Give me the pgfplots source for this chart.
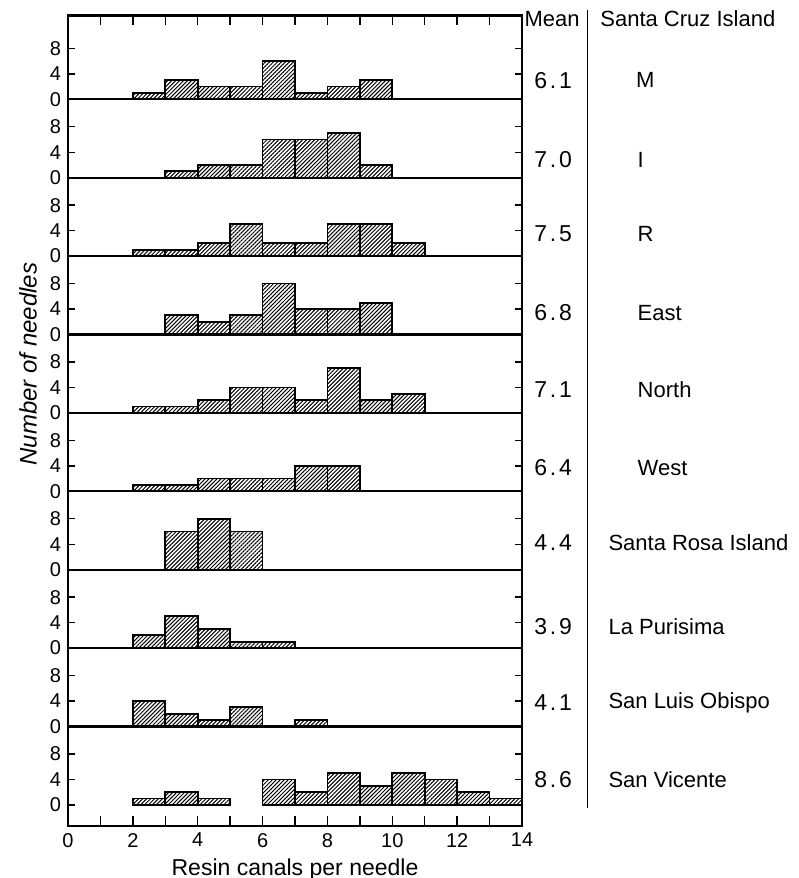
\documentclass[border=0pt]{standalone}
\usepackage{fontspec}
\setmainfont{Liberation Sans}
\newfontfamily\meanfont[LetterSpace=12]{Liberation Sans}
\usepackage{pgfplots}
\pgfplotsset{compat=1.18}
\usetikzlibrary{patterns.meta}
\tikzset{
  meanlab/.style={font=\meanfont\fontsize{11.5}{13}\selectfont, anchor=center},
  namelab/.style={font=\fontsize{11}{13}\selectfont, anchor=west},
}
\pgfplotsset{
  panel/.style={
    x=16.2143pt, y=3.185pt,
    xmin=0, xmax=14, ymin=0, ymax=12.31,
    anchor=south west,
    clip=false,
    axis line style={line width=1.1pt},
    ytick={0,4,8},
    ytick pos=both, yticklabel pos=left,
    xtick=\empty,
    tick align=inside,
    major tick length=3.5pt,
    xtick style={/pgfplots/major tick length=5pt},
    every tick/.append style={black, line width=0.7pt},
    tick label style={font=\fontsize{10}{12}\selectfont},
    /pgf/number format/assume math mode=true,
  },
  hist/.style={ybar interval, draw=black, line width=0.9pt,
    pattern={Lines[angle=45,distance=1.4pt,line width=0.5pt]}},
}
\begin{document}
\begin{tikzpicture}
\path[use as bounding box] (-34pt,-26pt) rectangle (365pt,413pt);
% 0: M
\begin{axis}[panel, at={(0pt,363.35pt)}, ymax=13.16,
  xtick={0,...,14}, xticklabels={}, xtick pos=top]
\addplot[hist] coordinates {(2,1)(3,3)(4,2)(5,2)(6,6)(7,1)(8,2)(9,3)(10,0)};
\node[meanlab] at (axis cs:14.96,3.0) {6.1};
\node[namelab] at (axis cs:17.3,3.0) {M};
\node[namelab, anchor=center] at (axis cs:14.93,12.6) {Mean};
\node[namelab] at (axis cs:16.2,12.6) {Santa Cruz Island};
\coordinate (sepT) at (axis cs:16.03,14.0);
\end{axis}
% 1: I
\begin{axis}[panel, at={(0pt,324.15pt)}]
\addplot[hist] coordinates {(3,1)(4,2)(5,2)(6,6)(7,6)(8,7)(9,2)(10,0)};
\node[meanlab] at (axis cs:14.96,2.8) {7.0};
\node[namelab] at (axis cs:17.35,2.8) {I};
\end{axis}
% 2: R
\begin{axis}[panel, at={(0pt,284.95pt)}]
\addplot[hist] coordinates {(2,1)(3,1)(4,2)(5,5)(6,2)(7,2)(8,5)(9,5)(10,2)(11,0)};
\node[meanlab] at (axis cs:14.96,3.5) {7.5};
\node[namelab] at (axis cs:17.35,3.5) {R};
\end{axis}
% 3: East
\begin{axis}[panel, at={(0pt,245.75pt)}]
\addplot[hist] coordinates {(3,3)(4,2)(5,3)(6,8)(7,4)(8,4)(9,5)(10,0)};
\node[meanlab] at (axis cs:14.96,3.4) {6.8};
\node[namelab] at (axis cs:17.35,3.4) {East};
\end{axis}
% 4: North
\begin{axis}[panel, at={(0pt,206.55pt)}]
\addplot[hist] coordinates {(2,1)(3,1)(4,2)(5,4)(6,4)(7,2)(8,7)(9,2)(10,3)(11,0)};
\node[meanlab] at (axis cs:14.96,3.6) {7.1};
\node[namelab] at (axis cs:17.35,3.6) {North};
\end{axis}
% 5: West
\begin{axis}[panel, at={(0pt,167.35pt)}]
\addplot[hist] coordinates {(2,1)(3,1)(4,2)(5,2)(6,2)(7,4)(8,4)(9,0)};
\node[meanlab] at (axis cs:14.96,3.7) {6.4};
\node[namelab] at (axis cs:17.35,3.7) {West};
\end{axis}
% 6: Santa Rosa Island
\begin{axis}[panel, at={(0pt,128.15pt)}]
\addplot[hist] coordinates {(3,6)(4,8)(5,6)(6,0)};
\node[meanlab] at (axis cs:14.96,4.2) {4.4};
\node[namelab] at (axis cs:16.45,4.2) {Santa Rosa Island};
\end{axis}
% 7: La Purisima
\begin{axis}[panel, at={(0pt,88.95pt)}]
\addplot[hist] coordinates {(2,2)(3,5)(4,3)(5,1)(6,1)(7,0)};
\node[meanlab] at (axis cs:14.96,3.3) {3.9};
\node[namelab] at (axis cs:16.45,3.3) {La Purisima};
\end{axis}
% 8: San Luis Obispo
\begin{axis}[panel, at={(0pt,49.75pt)}]
\addplot[hist] coordinates {(2,4)(3,2)(4,1)(5,3)(6,0)};
\addplot[hist] coordinates {(7,1)(8,0)};
\node[meanlab] at (axis cs:14.96,3.7) {4.1};
\node[namelab] at (axis cs:16.45,3.7) {San Luis Obispo};
\end{axis}
% 9: San Vicente
\begin{axis}[panel, at={(0pt,0pt)}, ymin=-3.31,
  xtick={0,...,14}, xticklabels={0,,2,,4,,6,,8,,10,,12,,14}, xtick pos=bottom,
  xlabel={Resin canals per needle},
  xlabel style={font=\fontsize{11.5}{13}\selectfont, yshift=1pt}]
\addplot[hist] coordinates {(2,1)(3,2)(4,1)(5,0)};
\addplot[hist] coordinates {(6,4)(7,2)(8,5)(9,3)(10,5)(11,4)(12,2)(13,1)(14,0)};
\node[meanlab] at (axis cs:14.96,3.9) {8.6};
\node[namelab] at (axis cs:16.45,3.9) {San Vicente};
\coordinate (sepB) at (axis cs:16.03,-0.5);
\end{axis}
\draw[line width=0.6pt] (sepT) -- (sepB);
\node[rotate=90, font=\itshape\fontsize{12}{14}\selectfont] at (-20pt,231pt) {Number of needles};
\end{tikzpicture}
\end{document}
